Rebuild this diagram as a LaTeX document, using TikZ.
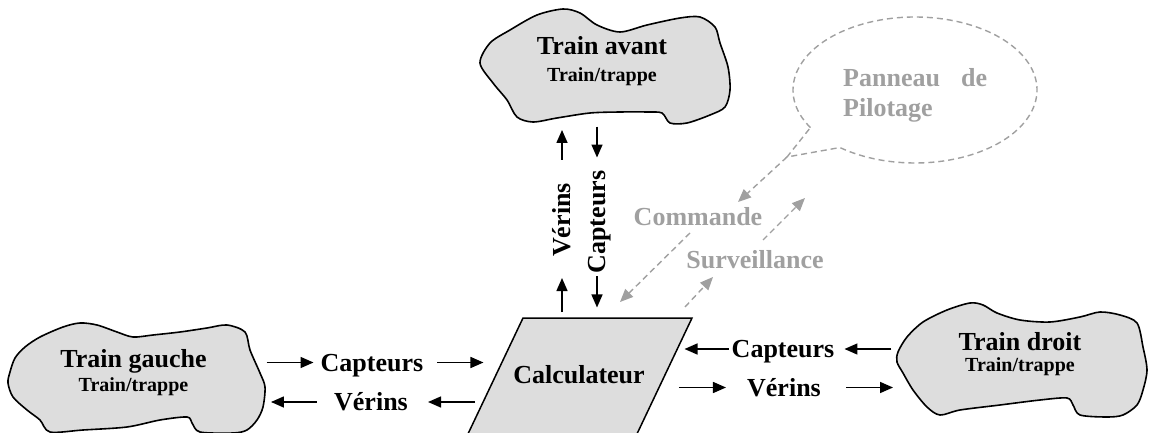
\documentclass[tikz,border=0pt]{standalone}
\usepackage{fontspec}
\setmainfont{Liberation Serif}
\usetikzlibrary{arrows.meta,calc,positioning}
\definecolor{fond}{HTML}{DDDDDD}
\definecolor{gris}{HTML}{A0A0A0}
\tikzset{
  titre/.style={font=\fontsize{26}{30}\selectfont\bfseries, inner sep=0pt, text height=19pt, text depth=2pt},
  sous/.style={font=\fontsize{20}{24}\selectfont\bfseries, inner sep=0pt, text height=14.5pt, text depth=1.5pt},
  nuage/.style={draw, fill=fond, line width=1.6pt, smooth cycle, tension=0.5},
  fl/.style={-{Triangle[length=13pt,width=11pt]}, line width=1.5pt},
  tiret/.style={gris, dash pattern=on 6pt off 4pt, line width=1.4pt},
  fltiret/.style={tiret, -{Triangle[length=13pt,width=11pt]}}
}
\begin{document}
\begin{tikzpicture}[x=1pt,y=-1pt]
\useasboundingbox (0,0) rectangle (1149,433);
\clip (0,0) rectangle (1149,433);
\draw[nuage] plot coordinates {(480,63) (490,43) (510,30) (537,15) (563,9) (580,13) (597,25) (620,32) (647,25) (680,18) (700,17) (715,27) (720,43) (728,67) (730,90) (725,107) (710,115) (687,123) (670,123) (662,113) (647,112) (620,112) (590,113) (557,118) (533,122) (517,117) (507,100) (493,83)};
\draw[nuage] plot coordinates {(10,372) (15,358) (25,347) (40,337) (63,327) (80,323) (97,325) (117,332) (133,337) (153,335) (180,332) (207,328) (227,325) (245,332) (250,350) (260,373) (265,387) (263,407) (257,420) (247,430) (233,433) (200,432) (192,423) (187,417) (160,420) (127,427) (83,430) (50,432) (40,420) (27,410) (13,397) (8,383)};
\draw[nuage] plot coordinates {(898,352) (907,337) (923,322) (947,310) (970,303) (983,305) (997,313) (1020,320) (1050,322) (1080,317) (1100,312) (1120,315) (1137,323) (1143,347) (1147,370) (1143,390) (1137,405) (1123,415) (1107,417) (1080,415) (1073,405) (1067,398) (1040,400) (1000,405) (960,410) (940,415) (927,407) (913,390) (903,373) (897,362)};
\draw[fill=fond, line width=1.5pt] (523,318) -- (692,318) -- (636,436) -- (467,436) -- cycle;

\node[titre] (avant) at (602,46.5) {Train avant};
\node[sous, below=9.5pt of avant] (avantT) {Train/trappe};
\node[titre] (gauche) at (133.5,359) {Train gauche};
\node[sous, below=7pt of gauche] (gaucheT) {Train/trappe};
\node[titre] (droit) at (1020,341.5) {Train droit};
\node[sous, below=4.5pt of droit] (droitT) {Train/trappe};
\node[titre] (calc) at (579,375) {Calculateur};

\coordinate (pointe) at (787,157);
\draw[tiret] (915,90) ++(149:122 and 73) arc[start angle=149, end angle=488, x radius=122, y radius=73] -- (pointe) -- cycle;
\node[font=\fontsize{26}{30}\selectfont\bfseries, text=gris, text width=144pt, align=left, inner sep=0pt, anchor=base west] (panneau) at (843,87) {Panneau\hfill de\\Pilotage};
\node[titre, text=gris] (cmd) at (698,216.5) {Commande};
\node[titre, text=gris] (surv) at (755,260) {Surveillance};
\draw[fltiret] (pointe) -- ($(cmd)+(40,-14.5)$);
\draw[fltiret] ($(cmd)+(-8,16.5)$) -- ($(cmd)+(-78,85.5)$);
\draw[fltiret] ($(surv)+(-70,47)$) -- ($(surv)+(-42,17)$);
\draw[fltiret] ($(surv)+(8,-20)$) -- ($(surv)+(50,-62)$);

\node[titre, rotate=90] (verV) at (562,220) {Vérins};
\node[titre, rotate=90] (capV) at (597,222) {Capteurs};
\draw[fl] ($(verV.east)+(0,-23)$) -- ($(verV.east)+(0,-53)$);
\draw[fl] ($(verV.west)+(0,55)$) -- ($(verV.west)+(0,21)$);
\draw[fl] ($(capV.east)+(0,-44)$) -- ($(capV.east)+(0,-13)$);
\draw[fl] ($(capV.west)+(0,3)$) -- ($(capV.west)+(0,34)$);

\node[titre] (capG) at (372,362.5) {Capteurs};
\node[titre] (verG) at (371,402) {Vérins};
\node[titre] (capD) at (783,349) {Capteurs};
\node[titre] (verD) at (784,387.5) {Vérins};
\draw[fl] ($(capG.west)+(-54,0)$) -- ($(capG.west)+(-7,0)$);
\draw[fl] ($(capG.east)+(14,0)$) -- ($(capG.east)+(60,0)$);
\draw[fl] ($(verG.west)+(-17,0)$) -- ($(verG.west)+(-63,0)$);
\draw[fl] ($(verG.east)+(67,0)$) -- ($(verG.east)+(20,0)$);
\draw[fl] ($(capD.east)+(57,0)$) -- ($(capD.east)+(10,0)$);
\draw[fl] ($(capD.west)+(-3,0)$) -- ($(capD.west)+(-47,0)$);
\draw[fl] ($(verD.west)+(-68,0)$) -- ($(verD.west)+(-21,0)$);
\draw[fl] ($(verD.east)+(25,0)$) -- ($(verD.east)+(72,0)$);
\end{tikzpicture}
\end{document}
